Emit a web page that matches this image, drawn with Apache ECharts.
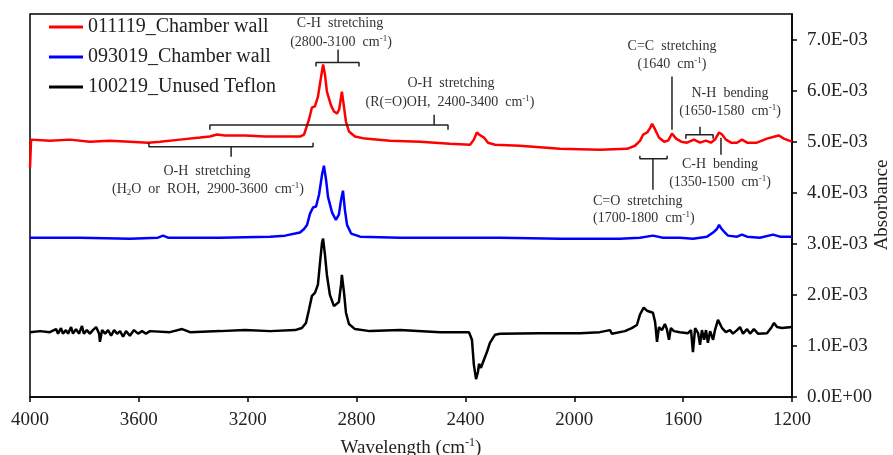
<!DOCTYPE html>
<html><head><meta charset="utf-8">
<script src="https://cdn.jsdelivr.net/npm/echarts@6/dist/echarts.min.js"></script>
<style>html,body{margin:0;padding:0;background:#fff}#c{width:893px;height:455px}</style>
</head><body><div id="c"></div>
<script>
const seriesNames = ['011119_Chamber wall', '093019_Chamber wall', '100219_Unused Teflon'];
const seriesColors = ['#ff0000', '#0000ff', '#000000'];
const xTicks = [1200, 1600, 2000, 2400, 2800, 3200, 3600, 4000];
const yTicks = [0, 1e-3, 2e-3, 3e-3, 4e-3, 5e-3, 6e-3, 7e-3];
const yAxisTitle = 'Absorbance';

// [wavenumber (cm-1), absorbance]
const red = [[4000,4.49e-3],[3996,5.04e-3],[3927,5.02e-3],[3853,5.04e-3],[3780,5.00e-3],[3706,5.02e-3],[3633,5.00e-3],[3566,4.98e-3],[3522,5.00e-3],[3449,5.04e-3],[3375,5.08e-3],[3339,5.10e-3],[3313,5.14e-3],[3283,5.12e-3],[3210,5.12e-3],[3136,5.10e-3],[3063,5.10e-3],[3008,5.10e-3],[2993,5.14e-3],[2975,5.43e-3],[2964,5.67e-3],[2953,5.69e-3],[2942,5.88e-3],[2931,6.25e-3],[2923,6.51e-3],[2916,6.31e-3],[2909,5.98e-3],[2894,5.71e-3],[2883,5.59e-3],[2872,5.55e-3],[2864,5.63e-3],[2854,5.98e-3],[2846,5.67e-3],[2839,5.39e-3],[2828,5.20e-3],[2806,5.10e-3],[2769,5.06e-3],[2677,5.02e-3],[2567,5.00e-3],[2457,4.96e-3],[2383,4.94e-3],[2369,5.04e-3],[2358,5.18e-3],[2350,5.14e-3],[2343,5.16e-3],[2332,5.08e-3],[2317,4.98e-3],[2291,4.94e-3],[2200,4.92e-3],[2053,4.86e-3],[1906,4.84e-3],[1806,4.86e-3],[1777,4.92e-3],[1758,5.02e-3],[1747,5.14e-3],[1732,5.18e-3],[1721,5.27e-3],[1714,5.35e-3],[1703,5.24e-3],[1689,5.08e-3],[1670,5.00e-3],[1655,5.02e-3],[1641,5.16e-3],[1626,5.06e-3],[1607,5.00e-3],[1586,4.98e-3],[1560,5.04e-3],[1538,4.98e-3],[1516,5.02e-3],[1498,4.98e-3],[1483,5.04e-3],[1468,5.18e-3],[1457,5.14e-3],[1443,5.04e-3],[1424,4.98e-3],[1402,4.98e-3],[1384,5.04e-3],[1365,4.98e-3],[1329,4.98e-3],[1292,5.06e-3],[1263,5.10e-3],[1248,5.12e-3],[1230,5.06e-3],[1200,5.00e-3]];

const blue = [[4000,3.12e-3],[3816,3.12e-3],[3633,3.10e-3],[3530,3.12e-3],[3511,3.16e-3],[3493,3.12e-3],[3302,3.12e-3],[3118,3.14e-3],[3063,3.16e-3],[3026,3.20e-3],[3008,3.22e-3],[2993,3.29e-3],[2982,3.37e-3],[2971,3.59e-3],[2960,3.71e-3],[2949,3.73e-3],[2938,3.96e-3],[2927,4.35e-3],[2920,4.53e-3],[2912,4.25e-3],[2905,3.92e-3],[2890,3.61e-3],[2876,3.47e-3],[2865,3.57e-3],[2857,3.86e-3],[2850,4.04e-3],[2843,3.67e-3],[2835,3.37e-3],[2820,3.20e-3],[2787,3.14e-3],[2640,3.12e-3],[2361,3.12e-3],[2273,3.12e-3],[2053,3.10e-3],[1832,3.10e-3],[1759,3.12e-3],[1711,3.16e-3],[1674,3.12e-3],[1612,3.12e-3],[1564,3.10e-3],[1538,3.12e-3],[1512,3.14e-3],[1490,3.22e-3],[1476,3.29e-3],[1468,3.37e-3],[1461,3.31e-3],[1450,3.24e-3],[1435,3.16e-3],[1402,3.14e-3],[1384,3.18e-3],[1365,3.14e-3],[1318,3.12e-3],[1270,3.18e-3],[1244,3.14e-3],[1200,3.14e-3]];

const black = [[4000,1.27e-3],[3963,1.29e-3],[3927,1.27e-3],[3904,1.33e-3],[3897,1.24e-3],[3886,1.35e-3],[3879,1.24e-3],[3868,1.31e-3],[3860,1.24e-3],[3849,1.37e-3],[3842,1.24e-3],[3831,1.33e-3],[3820,1.24e-3],[3809,1.39e-3],[3802,1.24e-3],[3791,1.31e-3],[3780,1.24e-3],[3769,1.31e-3],[3757,1.37e-3],[3746,1.24e-3],[3743,1.08e-3],[3735,1.31e-3],[3724,1.24e-3],[3713,1.31e-3],[3702,1.20e-3],[3691,1.31e-3],[3680,1.24e-3],[3669,1.29e-3],[3658,1.18e-3],[3647,1.29e-3],[3633,1.20e-3],[3618,1.31e-3],[3603,1.24e-3],[3588,1.29e-3],[3574,1.24e-3],[3559,1.29e-3],[3486,1.27e-3],[3441,1.33e-3],[3412,1.27e-3],[3302,1.29e-3],[3210,1.31e-3],[3118,1.29e-3],[3026,1.31e-3],[3001,1.35e-3],[2986,1.45e-3],[2975,1.71e-3],[2964,1.98e-3],[2953,2.04e-3],[2942,2.20e-3],[2934,2.65e-3],[2927,3.02e-3],[2923,3.10e-3],[2916,2.78e-3],[2909,2.39e-3],[2898,2.00e-3],[2883,1.78e-3],[2876,1.75e-3],[2865,1.86e-3],[2857,2.20e-3],[2854,2.39e-3],[2846,2.04e-3],[2839,1.65e-3],[2828,1.43e-3],[2806,1.33e-3],[2751,1.29e-3],[2640,1.31e-3],[2493,1.27e-3],[2387,1.27e-3],[2376,1.12e-3],[2369,0.63e-3],[2361,0.35e-3],[2354,0.49e-3],[2350,0.65e-3],[2343,0.57e-3],[2332,0.73e-3],[2321,0.88e-3],[2310,1.06e-3],[2291,1.22e-3],[2273,1.24e-3],[2126,1.25e-3],[1979,1.25e-3],[1906,1.27e-3],[1869,1.31e-3],[1862,1.24e-3],[1814,1.29e-3],[1789,1.35e-3],[1770,1.41e-3],[1759,1.61e-3],[1745,1.75e-3],[1733,1.69e-3],[1722,1.67e-3],[1711,1.65e-3],[1703,1.47e-3],[1696,1.08e-3],[1689,1.37e-3],[1678,1.31e-3],[1667,1.43e-3],[1660,1.33e-3],[1652,1.12e-3],[1645,1.35e-3],[1634,1.29e-3],[1612,1.27e-3],[1582,1.25e-3],[1571,1.31e-3],[1564,0.88e-3],[1556,1.35e-3],[1545,1.25e-3],[1538,1.02e-3],[1531,1.31e-3],[1523,1.12e-3],[1516,1.31e-3],[1509,1.06e-3],[1501,1.29e-3],[1490,1.12e-3],[1483,1.31e-3],[1472,1.51e-3],[1465,1.49e-3],[1457,1.35e-3],[1443,1.27e-3],[1428,1.31e-3],[1417,1.24e-3],[1402,1.31e-3],[1391,1.37e-3],[1380,1.24e-3],[1365,1.33e-3],[1354,1.24e-3],[1340,1.33e-3],[1325,1.24e-3],[1292,1.25e-3],[1277,1.35e-3],[1266,1.45e-3],[1255,1.37e-3],[1237,1.35e-3],[1200,1.37e-3]];

// annotation brackets, in data units
const brackets = [
  [[2949,6.471e-3],[2949,6.549e-3],[2791,6.549e-3],[2791,6.471e-3]],
  [[2868,6.549e-3],[2868,6.804e-3]],
  [[3339,5.235e-3],[3339,5.324e-3],[2464,5.324e-3],[2464,5.235e-3]],
  [[2515,5.324e-3],[2515,5.529e-3]],
  [[3563,4.980e-3],[3563,4.902e-3],[2960,4.902e-3],[2960,4.980e-3]],
  [[3261,4.902e-3],[3261,4.706e-3]],
  [[1641,5.235e-3],[1641,6.275e-3]],
  [[1590,5.059e-3],[1590,5.137e-3],[1490,5.137e-3],[1490,5.059e-3]],
  [[1538,5.137e-3],[1538,5.294e-3]],
  [[1461,5.078e-3],[1461,4.745e-3]],
  [[1759,4.725e-3],[1759,4.667e-3],[1659,4.667e-3],[1659,4.725e-3]],
  [[1711,4.667e-3],[1711,4.059e-3]]
];

const FONT = "'Liberation Serif', 'Times New Roman', serif";

function fmtSci(v) {
  if (Math.abs(v) < 1e-12) return '0.0E+00';
  const e = Math.floor(Math.log10(Math.abs(v)) + 1e-9);
  const m = v / Math.pow(10, e);
  return m.toFixed(1) + 'E' + (e < 0 ? '-' : '+') + String(Math.abs(e)).padStart(2, '0');
}

const chart = echarts.init(document.getElementById('c'));
const curves = [red, blue, black];
const series = curves.map((d, i) => ({
  name: seriesNames[i], type: 'line', data: d, symbol: 'none', z: 3 - i + 2,
  lineStyle: { color: seriesColors[i], width: 2.5 }, itemStyle: { color: seriesColors[i] },
  silent: true, animation: false
}));
brackets.forEach(b => series.push({
  type: 'line', data: b, symbol: 'none', z: 10, silent: true, animation: false,
  lineStyle: { color: '#222', width: 1.5 }
}));

const richBase = {
  n: { fontFamily: FONT, fontSize: 14, lineHeight: 16, fill: '#333' },
  s: { fontFamily: FONT, fontSize: 9, lineHeight: 9, verticalAlign: 'top', fill: '#333' },
  b: { fontFamily: FONT, fontSize: 9, lineHeight: 9, verticalAlign: 'bottom', fill: '#333' }
};
function t(x, y, text, align) {
  return { type: 'text', x: x, y: y, z: 20, silent: true,
    style: { text: text, rich: richBase, fontFamily: FONT, fontSize: 14, fill: '#333',
      align: align || 'center', verticalAlign: 'middle', textAlign: align || 'center', textVerticalAlign: 'middle' } };
}
const annotations = [
  t(340, 23, '{n|C-H  stretching}'),
  t(341, 42, '{n|(2800-3100  cm}{s|-1}{n|)}'),
  t(451, 83, '{n|O-H  stretching}'),
  t(450, 102, '{n|(R(=O)OH,  2400-3400  cm}{s|-1}{n|)}'),
  t(207, 171, '{n|O-H  stretching}'),
  t(208, 189, '{n|(H}{b|2}{n|O  or  ROH,  2900-3600  cm}{s|-1}{n|)}'),
  t(672, 46, '{n|C=C  stretching}'),
  t(672, 64, '{n|(1640  cm}{s|-1}{n|)}'),
  t(730, 93, '{n|N-H  bending}'),
  t(730, 111, '{n|(1650-1580  cm}{s|-1}{n|)}'),
  t(720, 164, '{n|C-H  bending}'),
  t(720, 182, '{n|(1350-1500  cm}{s|-1}{n|)}'),
  t(593, 201, '{n|C=O  stretching}', 'left'),
  t(593, 218, '{n|(1700-1800  cm}{s|-1}{n|)}', 'left'),
  { type: 'text', x: 882, y: 205, rotation: Math.PI / 2, z: 20, silent: true,
    style: { text: yAxisTitle, fontFamily: FONT, fontSize: 19, fill: '#222',
      align: 'center', verticalAlign: 'middle', textAlign: 'center', textVerticalAlign: 'middle' } }
];

chart.setOption({
  animation: false,
  backgroundColor: '#fff',
  grid: { left: 30, right: 101, top: 14, bottom: 58, outerBoundsMode: 'none', containLabel: false,
    show: true, borderColor: '#000', borderWidth: 1.5, backgroundColor: 'transparent' },
  legend: {
    data: seriesNames, orient: 'vertical', left: 49, top: 17, padding: 0, itemWidth: 34, itemHeight: 3, itemGap: 10,
    icon: 'rect', selectedMode: false,
    textStyle: { fontFamily: FONT, fontSize: 20, lineHeight: 20, color: '#222' }
  },
  xAxis: {
    type: 'value', inverse: true, min: 1200, max: 4000, interval: 400,
    name: '{n|Wavelength (cm}{s|-1}{n|)}', nameLocation: 'middle', nameGap: 40,
    nameTextStyle: { rich: {
      n: { fontFamily: FONT, fontSize: 19, lineHeight: 22, color: '#222' },
      s: { fontFamily: FONT, fontSize: 12, lineHeight: 12, verticalAlign: 'top', color: '#222' } } },
    axisLine: { show: true, lineStyle: { color: '#000', width: 1.5 } },
    axisTick: { show: true, length: 5, lineStyle: { color: '#000', width: 1.5 } },
    axisLabel: { fontFamily: FONT, fontSize: 19, color: '#222', margin: 14, formatter: v => String(v) },
    splitLine: { show: false }
  },
  yAxis: {
    type: 'value', position: 'right', min: 0, max: 0.0075,
    axisLine: { show: true, lineStyle: { color: '#000', width: 1.5 } },
    axisTick: { show: true, length: 5, customValues: yTicks, lineStyle: { color: '#000', width: 1.5 } },
    axisLabel: { fontFamily: FONT, fontSize: 19, color: '#222', margin: 15, customValues: yTicks, formatter: fmtSci },
    splitLine: { show: false }
  },
  graphic: annotations,
  series: series
});
</script>
</body></html>
